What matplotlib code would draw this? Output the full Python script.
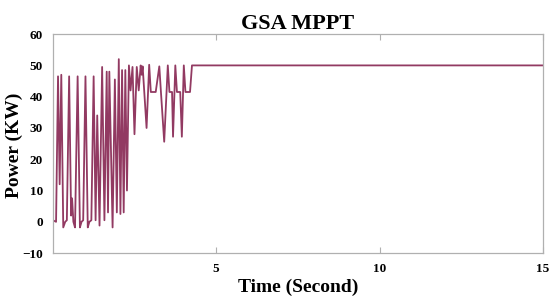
import matplotlib
matplotlib.use("Agg")
import matplotlib.pyplot as plt

time_s = [0.00, 0.10, 0.16, 0.21, 0.26, 0.32, 0.38, 0.43, 0.50, 0.56, 0.59, 0.63, 0.68,
          0.76, 0.83, 0.88, 0.93, 1.00, 1.07, 1.12, 1.18, 1.25, 1.31, 1.36, 1.43,
          1.51, 1.58, 1.65, 1.69, 1.73, 1.83, 1.90, 1.96, 2.02, 2.07, 2.12, 2.17,
          2.22, 2.27, 2.33, 2.38, 2.44, 2.50, 2.57, 2.63, 2.69, 2.72, 2.75, 2.87,
          2.95, 3.00, 3.15, 3.26, 3.31, 3.41, 3.52, 3.57, 3.65, 3.68, 3.75, 3.80,
          3.90, 3.95, 4.01, 4.06, 4.20, 4.26, 15.0]
power_kw = [0.5, 0.0, 46.5, 12.0, 47.0, -1.8, 0.0, 0.5, 46.5, 2.0, 7.5, 0.0, -1.8,
            46.5, -1.8, 0.0, 0.5, 46.5, -1.8, 0.0, 0.5, 46.5, 0.5, 34.0, -1.2,
            49.5, 0.5, 48.0, 3.0, 48.0, -1.8, 45.5, 3.0, 52.0, 2.5, 48.5, 3.0,
            48.5, 10.0, 50.0, 42.0, 49.5, 28.0, 49.5, 42.0, 50.0, 47.0, 49.7, 30.0,
            50.2, 41.5, 41.5, 49.7, 41.5, 25.6, 50.0, 41.5, 41.5, 27.2, 50.0, 41.5,
            41.5, 27.2, 50.0, 41.5, 41.5, 50.0, 50.0]

x_ticks = [5, 10, 15]
y_ticks = [-10, 0, 10, 20, 30, 40, 50, 60]

serif = ["Liberation Serif", "DejaVu Serif"]

fig = plt.figure(figsize=(5.5, 3.02), dpi=100)
ax = fig.add_axes([0.096, 0.162, 0.891, 0.725])
ax.plot(time_s, power_kw, color="#923a62", linewidth=1.3)
ax.set_xlim(0, 15)
ax.set_ylim(-10, 60)
ax.set_xticks(x_ticks)
ax.set_yticks(y_ticks)
ax.tick_params(axis="both", direction="in", length=4, color="#b0b0b0",
               top=True, right=False, labelsize=9.5, pad=7)
ax.tick_params(axis="y", length=0, pad=7)
for lab in ax.get_xticklabels() + ax.get_yticklabels():
    lab.set_fontfamily(serif)
    lab.set_fontweight("bold")
for sp in ax.spines.values():
    sp.set_color("#b0b0b0")
    sp.set_linewidth(0.9)
ax.set_title("GSA MPPT", fontsize=16, fontweight="bold", family=serif, pad=4)
ax.set_xlabel("Time (Second)", fontsize=14, fontweight="bold", family=serif, labelpad=3)
ylab = ax.set_ylabel("Power (KW)", fontsize=14, fontweight="bold", family=serif)
ylab.set_verticalalignment("center")
ax.yaxis.set_label_coords(-0.078, 0.49)
fig.savefig("out.png", dpi=100)
